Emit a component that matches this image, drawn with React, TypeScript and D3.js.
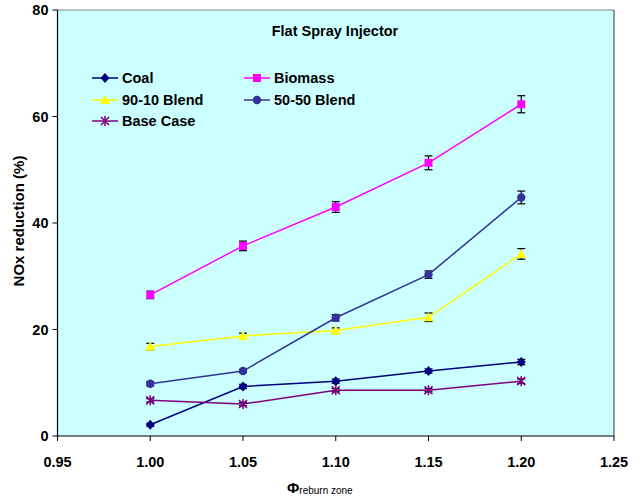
import * as d3 from 'd3'

const phi = [1.0, 1.05, 1.1, 1.15, 1.2]
const xTicks = [0.95, 1.0, 1.05, 1.1, 1.15, 1.2, 1.25]
const yTicks = [0, 20, 40, 60, 80]

const coal = [2.1, 9.3, 10.3, 12.2, 13.9]
const coalErr = [0.3, 0.4, 0.4, 0.4, 0.5]
const biomass = [26.5, 35.7, 43.0, 51.3, 62.3]
const biomassErr = [0.7, 0.9, 1.0, 1.3, 1.6]
const blend9010 = [16.8, 18.8, 19.8, 22.3, 34.2]
const blend9010Err = [0.6, 0.5, 0.5, 0.8, 1.0]
const blend5050 = [9.8, 12.2, 22.2, 30.3, 44.8]
const blend5050Err = [0.4, 0.3, 0.6, 0.7, 1.2]
const baseCase = [6.7, 6.0, 8.6, 8.6, 10.3]
const baseCaseErr = [0.3, 0.3, 0.3, 0.3, 0.4]

const series = [
  { name: 'Coal', values: coal, err: coalErr, color: '#000080', marker: 'diamond' },
  { name: 'Biomass', values: biomass, err: biomassErr, color: '#ff00ff', marker: 'square' },
  { name: '90-10 Blend', values: blend9010, err: blend9010Err, color: '#ffff00', marker: 'triangle' },
  { name: '50-50 Blend', values: blend5050, err: blend5050Err, color: '#333399', marker: 'circle' },
  { name: 'Base Case', values: baseCase, err: baseCaseErr, color: '#800080', marker: 'star' },
]

const W = 642
const H = 501
const left = 57.5
const right = 614
const top = 10
const bottom = 436
const font = 'Arial, "Liberation Sans", sans-serif'

const x = d3.scaleLinear().domain([0.95, 1.25]).range([left, right])
const y = d3.scaleLinear().domain([0, 80]).range([bottom, top])

const Marker = ({ kind, cx, cy, color }: { kind: string; cx: number; cy: number; color: string }) => {
  if (kind === 'diamond')
    return <path d={`M${cx},${cy - 5}L${cx + 4.5},${cy}L${cx},${cy + 5}L${cx - 4.5},${cy}Z`} fill={color} />
  if (kind === 'square')
    return <rect x={cx - 4} y={cy - 4} width={8} height={8} fill={color} />
  if (kind === 'triangle')
    return <path d={`M${cx},${cy - 5}L${cx + 5},${cy + 4}L${cx - 5},${cy + 4}Z`} fill={color} />
  if (kind === 'circle') return <circle cx={cx} cy={cy} r={4.2} fill={color} />
  // star / asterisk
  return (
    <g stroke={color} strokeWidth={1.6}>
      <line x1={cx - 4} y1={cy - 4} x2={cx + 4} y2={cy + 4} />
      <line x1={cx - 4} y1={cy + 4} x2={cx + 4} y2={cy - 4} />
      <line x1={cx} y1={cy - 5} x2={cx} y2={cy + 5} />
    </g>
  )
}

const line = d3
  .line<number>()
  .x((_, i) => x(phi[i]))
  .y(d => y(d))

const legendPos = [
  { lx: 92, ly: 78 },
  { lx: 244, ly: 78 },
  { lx: 92, ly: 100 },
  { lx: 244, ly: 100 },
  { lx: 92, ly: 121 },
]

export default function App() {
  return (
    <svg width={W} height={H} style={{ display: 'block', position: 'absolute', left: 0, top: 0 }}>
      <rect x={0} y={0} width={W} height={H} fill="#ffffff" />
      <rect x={left} y={top} width={right - left} height={bottom - top} fill="#ccffff" />
      <line x1={left} y1={top} x2={right} y2={top} stroke="#808080" strokeWidth={1} />
      <line x1={right} y1={top} x2={right} y2={bottom} stroke="#333333" strokeWidth={1} />
      <line x1={left} y1={top} x2={left} y2={bottom} stroke="#000" strokeWidth={1.2} />
      <line x1={left} y1={bottom} x2={right} y2={bottom} stroke="#000" strokeWidth={1.2} />

      {yTicks.map(t => (
        <g key={t}>
          <line x1={left - 5} x2={left} y1={y(t)} y2={y(t)} stroke="#000" />
          <text x={left - 9} y={y(t) + 5} textAnchor="end" fontFamily={font} fontWeight="bold" fontSize={14.5}>
            {t}
          </text>
        </g>
      ))}
      {xTicks.map(t => (
        <g key={t}>
          <line x1={x(t)} x2={x(t)} y1={bottom} y2={bottom + 5} stroke="#000" />
          <text x={x(t)} y={bottom + 31} textAnchor="middle" fontFamily={font} fontWeight="bold" fontSize={14.5}>
            {t.toFixed(2)}
          </text>
        </g>
      ))}

      <text
        transform={`translate(24,${(top + bottom) / 2 - 2}) rotate(-90)`}
        textAnchor="middle"
        fontFamily={font}
        fontWeight="bold"
        fontSize={15}
      >
        NOx reduction (%)
      </text>
      <text x={287} y={493} fontFamily={font} fontWeight="bold">
        <tspan fontSize={15}>Φ</tspan>
        <tspan fontSize={10} fontWeight="normal" dy={1}>reburn zone</tspan>
      </text>

      <text x={335} y={36} textAnchor="middle" fontFamily={font} fontWeight="bold" fontSize={14.5}>
        Flat Spray Injector
      </text>

      {series.map(s => (
        <g key={s.name}>
          <path d={line(s.values) ?? ''} fill="none" stroke={s.color} strokeWidth={1.5} />
          {s.values.map((v, i) => (
            <g key={i} stroke="#000" strokeWidth={1.2}>
              <line x1={x(phi[i])} x2={x(phi[i])} y1={y(v + s.err[i])} y2={y(v - s.err[i])} />
              <line x1={x(phi[i]) - 4} x2={x(phi[i]) + 4} y1={y(v + s.err[i])} y2={y(v + s.err[i])} />
              <line x1={x(phi[i]) - 4} x2={x(phi[i]) + 4} y1={y(v - s.err[i])} y2={y(v - s.err[i])} />
            </g>
          ))}
          {s.values.map((v, i) => (
            <Marker key={i} kind={s.marker} cx={x(phi[i])} cy={y(v)} color={s.color} />
          ))}
        </g>
      ))}

      {series.map((s, i) => {
        const { lx, ly } = legendPos[i]
        return (
          <g key={s.name}>
            <line x1={lx} x2={lx + 26} y1={ly} y2={ly} stroke={s.color} strokeWidth={1.5} />
            <Marker kind={s.marker} cx={lx + 13} cy={ly} color={s.color} />
            <text x={lx + 30} y={ly + 5} fontFamily={font} fontWeight="bold" fontSize={14.5}>
              {s.name}
            </text>
          </g>
        )
      })}
    </svg>
  )
}
